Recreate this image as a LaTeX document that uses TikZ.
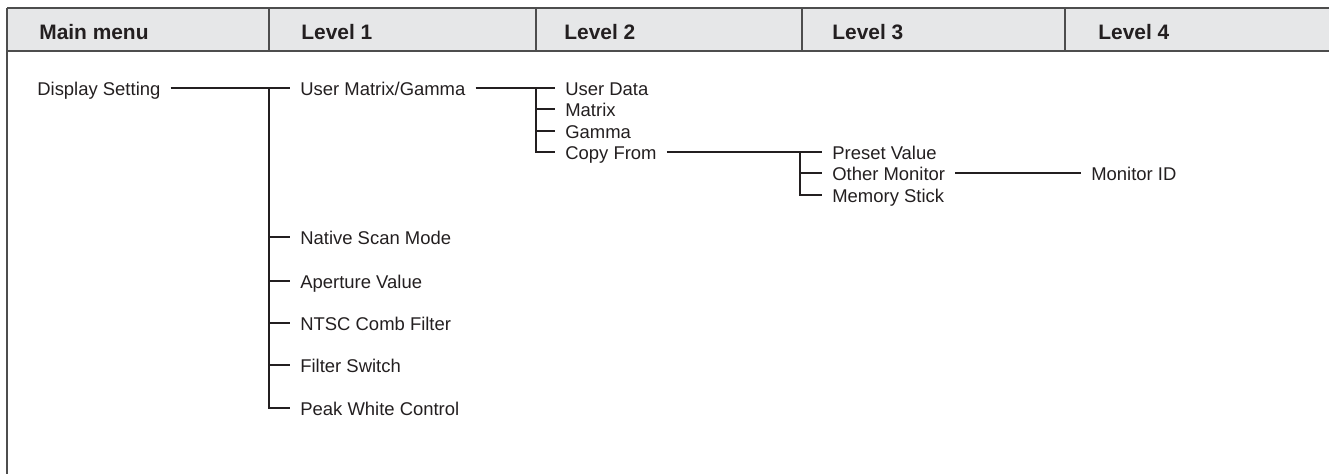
\documentclass[tikz,border=0pt]{standalone}
\usepackage{fontspec}
\setmainfont{Liberation Sans}
\usetikzlibrary{positioning}
\definecolor{ink}{HTML}{231F20}
\definecolor{frame}{HTML}{4D4D4D}
\definecolor{headfill}{HTML}{E6E7E8}

\begin{document}
\begin{tikzpicture}[x=0.02cm,y=-0.02cm,text=ink,hdr/.style={anchor=base west,inner sep=0pt,font=\fontsize{11.9}{14}\selectfont\bfseries},item/.style={anchor=west,inner xsep=.2cm,inner ysep=0pt,text height=1.6ex,text depth=0pt,font=\fontsize{10.5}{12}\selectfont},link/.style={draw=ink,line width=.6pt}]
 \useasboundingbox (0,0) rectangle (1329,474);
 % header row
 \fill[headfill] (7,8) rectangle (1329,51);
 \draw[frame,line width=1.1pt] (7,8) -- (1329,8) (7,51) -- (1329,51);
 \draw[frame,line width=.8pt] (7,8) -- (7,474);
 \foreach \x in {269,536,802,1065} \draw[frame,line width=.8pt] (\x,8) -- (\x,51);
 \node[hdr] (main) at (39,39.5) {Main menu};
 \node[hdr] (lvl1) at (301,39.5) {Level 1};
 \node[hdr] (lvl2) at (564,39.5) {Level 2};
 \node[hdr] (lvl3) at (832,39.5) {Level 3};
 \node[hdr] (lvl4) at (1098,39.5) {Level 4};
 % menu tree
 \node[item] (disp) at (27,88) {Display Setting};
 \node[item] (umg) at (290,88) {User Matrix/Gamma};
 \node[item] (nsm) at (290,237) {Native Scan Mode};
 \node[item] (apv) at (290,281) {Aperture Value};
 \node[item] (ntsc) at (290,323) {NTSC Comb Filter};
 \node[item] (fsw) at (290,365) {Filter Switch};
 \node[item] (pwc) at (290,408) {Peak White Control};
 \node[item] (udata) at (555,88) {User Data};
 \node[item] (matrix) at (555,109) {Matrix};
 \node[item] (gamma) at (555,131) {Gamma};
 \node[item] (copy) at (555,152) {Copy From};
 \node[item] (preset) at (822,152) {Preset Value};
 \node[item] (other) at (822,173) {Other Monitor};
 \node[item] (memstick) at (822,195) {Memory Stick};
 \node[item] (monid) at (1081,173) {Monitor ID};
 \coordinate (b1) at (269,88);
 \coordinate (b2) at (536,88);
 \coordinate (b3) at (800,152);
 \draw[link] (disp) -- (umg);
 \draw[link] (b1) |- (pwc);
 \foreach \n in {nsm,apv,ntsc,fsw} \draw[link] (b1 |- \n) -- (\n);
 \draw[link] (umg) -- (udata);
 \draw[link] (b2) |- (copy);
 \foreach \n in {matrix,gamma} \draw[link] (b2 |- \n) -- (\n);
 \draw[link] (copy) -- (preset);
 \draw[link] (b3) |- (memstick);
 \draw[link] (b3 |- other) -- (other);
 \draw[link] (other) -- (monid);
\end{tikzpicture}
\end{document}
